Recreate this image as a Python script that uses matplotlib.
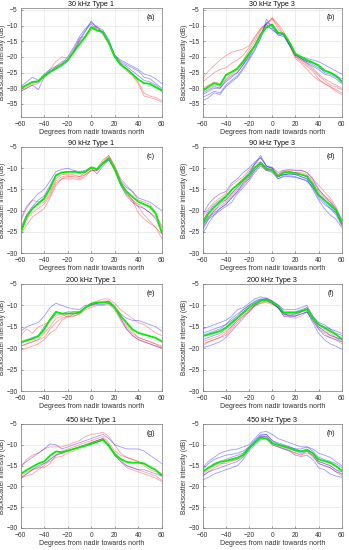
import matplotlib
matplotlib.use("Agg")
import matplotlib.pyplot as plt
import numpy as np

plt.rcParams['font.family'] = ['Liberation Sans', 'DejaVu Sans']

angles = list(range(-60, 61, 5))
xticks = [-60, -40, -20, 0, 20, 40, 60]
titles = ["30 kHz Type 1", "30 kHz Type 3", "90 kHz Type 1", "90 kHz Type 3",
          "200 kHz Type 1", "200 kHz Type 3", "450 kHz Type 1", "450 kHz Type 3"]
panel_tags = ["(a)", "(b)", "(c)", "(d)", "(e)", "(f)", "(g)", "(h)"]
xlabel_text = "Degrees from nadir towards north"
ylabel_text = "Backscatter intensity (dB)"
yticks_30 = [-35, -30, -25, -20, -15, -10, -5]
yticks_other = [-30, -25, -20, -15, -10, -5]

# ---- (a) 30 kHz Type 1
a_green = [-30, -29, -28, -27.8, -26, -24.8, -23.6, -22.5, -21, -18.5, -16, -13.5, -10.5, -11.6, -12, -15.5, -20, -22.5, -23.8, -25.5, -27.2, -28.4, -28.6, -29.7, -30.8]
a_red = [
    [-30.5, -29.5, -28.5, -28, -26, -24, -21.5, -20, -20.5, -17.5, -14, -13.5, -11, -10, -13, -16, -20, -22.5, -24.5, -26, -28.5, -32.5, -33, -33.5, -34.5],
    [-31, -30, -29, -28.5, -26.5, -25, -23, -21.5, -21, -18.5, -15, -14, -11.5, -10.5, -12.5, -15.5, -19.5, -22, -24, -25.5, -28, -31.5, -32.5, -33, -34],
]
a_blue = [
    [-29.5, -28, -26.5, -27.5, -25.5, -24, -23, -22, -20, -17, -13.5, -11, -9, -10.5, -11.5, -14.5, -19.5, -21, -22, -23, -24, -25.5, -26, -27, -28.5],
    [-31, -30, -29, -30.5, -26.5, -25, -24, -23, -21.5, -18.5, -15, -12, -8.5, -11, -12, -15, -19.5, -21.5, -22.5, -23.5, -24.5, -26.5, -27, -28.5, -30],
    [-30, -29, -28, -28, -26, -24.5, -23.5, -22.5, -21, -18, -14.5, -11.5, -9.5, -11.5, -12.5, -15.5, -20, -22, -23, -24.5, -26, -27.5, -28, -29, -30.5],
]
# ---- (b) 30 kHz Type 3
b_green = [-30.8, -29.5, -28.4, -29, -25.8, -24.8, -23.7, -21.5, -19, -16.5, -12.8, -10.6, -9.7, -12.3, -12.6, -15.4, -19, -20, -21, -21.8, -22.7, -24.3, -25, -26, -27.9]
b_red = [
    [-26.9, -24.5, -22.7, -21, -19.6, -18.5, -18, -17.5, -16.5, -13.5, -11, -9.5, -7.5, -9.5, -12, -15.5, -19.5, -21, -22.5, -24, -26, -27.5, -29, -29.5, -30.5],
    [-28, -26.5, -25, -24, -23.5, -22, -21, -19.5, -17, -14, -11, -9.5, -8, -10, -13, -16, -20, -21.5, -23, -24.5, -27, -28.5, -29.5, -30.5, -31.5],
    [-31, -30, -29, -29.5, -27, -25.5, -24, -22, -19, -16, -12.5, -10, -9.5, -12, -12.5, -16, -20, -21, -22, -23.5, -25.5, -27, -28, -29, -30],
    [-30, -29, -28, -28.5, -26, -25, -23.5, -21, -18, -15, -11.5, -9.5, -7.5, -11, -13, -16.5, -20.5, -22, -24, -26, -27.5, -28.5, -29.5, -31, -32],
]
b_blue = [
    [-32, -31, -30, -30, -28, -26.5, -25, -22.5, -20, -16.5, -13, -9, -10, -13, -13, -16, -19.5, -20, -20.5, -21, -21.5, -22.5, -23.5, -24.5, -25.5],
    [-33, -32, -31, -31.5, -29, -27.5, -26, -23.5, -20.5, -17.5, -14, -10.5, -11, -13, -13.5, -16.5, -19.5, -20.5, -21.5, -22, -23, -25, -25.5, -26.5, -27.5],
    [-34, -33, -31.5, -32, -29.5, -28, -26.5, -24, -21, -18, -14, -8, -10.5, -12.5, -13, -16, -19, -20.5, -22, -23, -24, -25.5, -26, -27, -28.5],
    [-31.5, -30.5, -29.5, -30, -27.5, -26, -25, -22.5, -19.5, -16.5, -13, -9.5, -11.5, -12.5, -12.8, -16, -19, -20.5, -21.5, -22.5, -23.5, -24.5, -25, -26, -27],
]
# ---- (c) 90 kHz Type 1
c_green = [-25.2, -21.5, -19.5, -18.3, -17.1, -14.7, -11.7, -11, -10.9, -10.8, -11, -10.9, -9.8, -10.2, -8.8, -7.6, -10.2, -13.5, -15.5, -16.7, -17.9, -18.5, -19.1, -20.7, -25.2]
c_red = [
    [-24, -21, -19.5, -18.5, -18, -16, -13, -12, -11.8, -12, -12.5, -11.5, -10.5, -10.5, -8.5, -7, -9.5, -12.5, -14, -15.5, -17.5, -18, -18.5, -20.5, -24],
    [-25.5, -23.5, -21.5, -20.5, -19.5, -17, -14, -12.5, -12.5, -12.5, -12.8, -12, -10.5, -10.5, -9, -7.5, -10, -13.5, -16, -17.5, -19, -21, -22.5, -24, -26.5],
    [-22.5, -19.5, -17.5, -18, -17.5, -15.5, -12.5, -11.5, -11.5, -11.5, -12, -11, -10, -10, -8, -7, -9.5, -13, -15.5, -17.5, -20.5, -22, -23, -24, -25.5],
    [-24.5, -22, -20.5, -19.5, -18.5, -16.5, -13.5, -12.5, -12, -11.8, -12, -11.5, -10.5, -10.5, -9, -8, -10.5, -14, -16, -17.5, -18.5, -19.5, -20.5, -21.5, -23.5],
]
c_blue = [
    [-22, -19, -17.5, -16, -15, -13, -10.8, -10.3, -10, -10.5, -10.8, -10.5, -9.8, -10.5, -9, -8, -10, -13, -14.5, -15.5, -17, -17.5, -18, -19, -20],
    [-24.5, -21, -19, -17.5, -16.5, -14, -11.5, -11, -10.8, -11, -11.2, -10.8, -10, -11.3, -9.5, -8, -10.5, -14, -16.5, -18, -19, -19.5, -20.5, -22, -25],
]
# ---- (d) 90 kHz Type 3
d_green = [-23.1, -20.7, -19.1, -17.9, -16.7, -15.1, -13.9, -12.7, -11.5, -9.8, -8.8, -10.2, -10.4, -11.9, -11, -10.9, -11.2, -11.5, -11.9, -13.9, -16.3, -17.5, -18.7, -19.9, -22.7]
d_red = [
    [-21.5, -19.5, -18, -17, -16, -14, -13, -12, -10.5, -9, -8.5, -9.8, -10, -11.5, -10.5, -10.5, -10.5, -10.5, -11, -12.5, -14, -15.5, -17, -19, -22.5],
    [-22.5, -20.5, -19.5, -18, -17.5, -16, -14.5, -13, -12, -10, -9, -10.5, -10.5, -11.5, -10.8, -10.8, -11, -11, -11.5, -13, -15, -16.5, -17.5, -19.5, -23],
    [-23.5, -21.5, -20, -19, -18, -16.5, -15, -13.5, -12.5, -10.5, -9.2, -10.5, -10.8, -12, -11.5, -11.2, -11.3, -11.5, -12, -13.5, -15.5, -17, -18, -20, -23.5],
]
d_blue = [
    [-21, -18.5, -17, -16, -15.5, -13.5, -12.5, -11, -10, -8.5, -7.5, -9.5, -10, -12, -11.5, -11.5, -11.5, -12, -12.5, -15, -17.5, -19.5, -21, -22, -24],
    [-24.5, -22, -20, -18.5, -17.5, -16, -14.5, -13, -11.5, -9, -7, -9.5, -10, -12, -11, -11, -11, -11.5, -12, -13.5, -16, -17.5, -19, -20.5, -23],
    [-25.5, -23, -21, -19.5, -18.5, -17, -15.5, -14, -12.5, -10.5, -9, -10, -10.5, -12.5, -11.8, -11.8, -12, -12.5, -13, -14.5, -17, -18.5, -19.5, -21, -23.5],
    [-22.5, -20, -18.5, -17.5, -16.5, -15, -14, -12.5, -11, -9, -7.5, -9.5, -9.8, -11, -10.5, -10.3, -10.5, -10.5, -11, -12.5, -15, -16.5, -18, -19.5, -22],
    [-23.5, -21.5, -20.5, -19.5, -18.5, -17, -15.5, -13.5, -12, -10, -8.5, -10, -10.5, -12, -11.5, -11.3, -11.5, -12, -12.5, -14, -16.5, -18, -19.5, -20.5, -23],
    [-24, -22, -21, -20, -19, -18, -16, -14.5, -13, -11, -9.5, -10.5, -11, -12.5, -12, -12, -12.2, -12.5, -13, -14.5, -16.5, -17.5, -18.5, -20, -22.5],
]
# ---- (e) 200 kHz Type 1
e_green = [-18.6, -18.2, -17.8, -17.2, -15.6, -13.3, -11.5, -11.9, -11.9, -11.9, -11.7, -10.5, -9.6, -9.3, -9.3, -9.1, -10.5, -12.5, -14, -15.6, -16.4, -16.8, -17.2, -17.6, -18.4]
e_red = [
    [-19.5, -19, -18.5, -18, -17.5, -15.5, -14, -13, -12.5, -12.5, -12, -10.5, -10, -9.5, -9.5, -9.3, -10.5, -13, -15, -16.5, -17.5, -18, -18.5, -19, -19.8],
    [-20.5, -20, -19.5, -19, -18, -16.5, -15.5, -13.5, -12.5, -12.5, -12, -11, -10.5, -10, -10, -9.8, -11, -13.5, -15.5, -17, -18, -18.5, -19, -19.5, -20],
    [-17, -15.5, -16.5, -15, -14.5, -13.5, -12.5, -12, -12.8, -12, -11.5, -10.5, -9.5, -9, -8.5, -8.5, -9.5, -11, -12, -13, -14, -14.5, -15.5, -16.5, -17],
    [-19.5, -19, -18.5, -18, -16.5, -15, -13, -12.5, -12, -11.5, -11.5, -10.5, -9.8, -9.5, -9, -9, -10, -12, -14.5, -16, -17.5, -18, -18.5, -19, -19.5],
]
e_blue = [
    [-16, -15, -14.5, -14, -12.5, -10.5, -9.5, -10, -10.5, -10.8, -11, -10, -9.8, -9.5, -9.3, -9.5, -10.5, -12, -13, -13.5, -13.5, -14, -14.5, -15, -16],
    [-19, -18, -17.5, -17, -15, -13.5, -12, -12, -11.5, -11.5, -11.5, -10.5, -10, -9.8, -9.8, -9.5, -10.5, -13, -15.5, -17, -18, -18.5, -19, -19.5, -20],
]
# ---- (f) 200 kHz Type 3
f_green = [-17.2, -16.8, -16.4, -16, -15.2, -14, -12.9, -11.7, -10.5, -9.6, -8.9, -8.7, -9.3, -10.1, -11.7, -11.7, -11.7, -11.3, -10.9, -12.9, -14.4, -15.2, -16, -16.8, -17.8]
f_red = [
    [-19.5, -18.5, -18, -17.5, -17, -15.5, -14, -12.5, -11.2, -10, -9.2, -9, -9.5, -10.5, -12, -12.3, -12.5, -11.5, -10.5, -13, -15, -16, -17, -17.5, -18.5],
    [-19, -18.5, -18, -17.5, -16.5, -15, -13.5, -12, -11, -10, -9.5, -9.3, -9.8, -10.5, -12.5, -12.8, -13, -12.5, -11.5, -13.5, -15.5, -16.5, -17.5, -18, -19],
    [-18.5, -18, -17.5, -17, -16, -15, -13.5, -12.5, -11.5, -10.2, -9.5, -9, -9.5, -10.5, -11.8, -12, -12, -11.5, -11, -13, -14.5, -15.5, -16.5, -17.5, -18],
]
f_blue = [
    [-15.5, -15, -14.5, -14, -13.5, -12.5, -11, -10.5, -9.5, -8.5, -8, -8.3, -9, -9.8, -11, -11, -11, -10.5, -10, -12.5, -14, -14.5, -15.5, -16, -16.5],
    [-16.5, -16, -15.5, -15, -14.5, -13, -12, -11, -10, -9.2, -8.5, -8.5, -9, -10, -11.5, -11.5, -11.5, -11, -10.5, -12.5, -14.5, -15, -15.5, -16.5, -17],
    [-19.8, -19.5, -19, -18.5, -17.5, -16, -14.5, -13, -11.5, -10, -9, -8.5, -9.5, -10.5, -12, -12.5, -12.5, -12, -11.5, -14, -16.5, -18, -19, -19.5, -20.2],
    [-18, -17.5, -17, -16.5, -15.5, -14.5, -13, -11.5, -10.5, -9.5, -8.8, -8.3, -9, -10.5, -12.5, -12.5, -12.5, -12, -11.5, -13.5, -15.5, -17, -17.5, -18, -18.5],
    [-17, -16.5, -16, -15.5, -14.5, -13.5, -12.5, -11, -10, -9, -8.5, -8.8, -9.5, -10.5, -12, -12.3, -12, -11.5, -11, -13, -15, -16, -17, -17.5, -18],
]
# ---- (g) 450 kHz Type 1
g_green = [-17, -16.1, -15.3, -14.5, -14, -12.6, -11.6, -11.8, -11.4, -11, -10.6, -10.2, -9.8, -9.3, -8.8, -10.2, -12.2, -13.4, -14.1, -14.3, -14.3, -14.5, -15.3, -16.1, -17.3]
g_red = [
    [-15.5, -13.5, -12.5, -12, -11, -10.5, -10.5, -10.5, -10, -9.5, -9, -8, -7.5, -7.3, -7, -8, -10, -12, -13, -13.5, -14, -14.5, -15.5, -16, -17],
    [-18, -17, -16, -15.5, -14.5, -14, -13, -12.8, -12, -11.5, -11, -10.3, -9.5, -9, -8.5, -10, -12.5, -14, -15.5, -16, -16.5, -17, -17.5, -18, -18.8],
    [-17.5, -16.5, -16, -15.5, -15.5, -14.5, -12.5, -12, -11.5, -11, -10.5, -10, -9.5, -9, -8.5, -10, -12.5, -13.5, -15, -15.5, -16, -16.5, -17, -17.5, -18.5],
    [-18, -17.5, -17, -16, -15, -13.5, -12.5, -11.5, -11, -10.5, -10, -9.5, -9, -8.5, -8, -9.5, -11.5, -12.5, -13, -13.5, -14, -15, -16, -16.5, -17.5],
]
g_blue = [
    [-15, -14, -13, -12, -11, -9.8, -10, -11, -10.5, -10, -9.5, -9, -8.5, -8, -7.5, -8.5, -10, -10.5, -11, -11, -11, -11.5, -12.5, -13.5, -14.5],
    [-18, -17, -16, -15, -14.5, -13.5, -12.5, -12, -11.5, -11, -10.5, -10, -9.5, -9, -8.5, -10.5, -12.5, -14, -15, -15.5, -16, -16, -16.5, -17, -17.5],
]
# ---- (h) 450 kHz Type 3
h_green = [-16.5, -15.5, -14.7, -14.1, -13.9, -13.5, -13.1, -12.4, -10.8, -9.5, -8.3, -8.5, -9.6, -10, -10.4, -10.8, -11.3, -11.6, -11.3, -12, -13.5, -13.9, -14.3, -15.1, -16.2]
h_red = [
    [-17.5, -16.5, -15.5, -14.8, -14, -13.8, -13.5, -12.8, -11, -9.5, -8, -8, -9.5, -10.3, -10.8, -11.3, -12, -12.3, -12, -12.5, -14.5, -15, -15.5, -16.5, -17.5],
    [-17, -16, -15, -14.5, -14.5, -14, -13.5, -12.5, -11, -9.5, -8.3, -8.3, -10, -10.5, -11, -11.5, -12, -12.5, -11.5, -13, -14, -14.5, -15, -16, -17],
]
h_blue = [
    [-15.5, -14, -13, -12, -11.5, -11.2, -11, -10.5, -10, -8.5, -7, -6.8, -7.5, -8.5, -9, -9.5, -10, -10.5, -10.5, -11, -12, -12.5, -13, -14, -15],
    [-18.5, -17.8, -17, -16.5, -16, -15.5, -15, -13.5, -11.5, -10, -8.8, -8.5, -10, -10.5, -11, -11.5, -12.5, -12.8, -12.5, -13.5, -15.5, -16, -17, -17.5, -17.8],
    [-16, -14.5, -13.5, -13, -12.5, -12.3, -12, -11.5, -10.5, -9, -7.5, -7.5, -9, -9.5, -10, -10.5, -11, -11, -10.5, -11.5, -13, -13.5, -14, -14.5, -15.5],
    [-17.5, -16.5, -16, -15.5, -15, -14.5, -14, -13, -11, -9.5, -8, -8, -9.5, -10, -10.5, -11, -11.5, -12, -11.5, -12.5, -14.5, -15, -15.5, -16.5, -17],
    [-16.5, -15.5, -14.5, -14, -13.5, -13, -12.5, -12, -10.5, -9, -7.8, -7.5, -9, -9.8, -10.2, -10.5, -11, -11.5, -11, -12, -14, -14.5, -15, -16, -16.5],
]

greens = [a_green, b_green, c_green, d_green, e_green, f_green, g_green, h_green]
reds = [a_red, b_red, c_red, d_red, e_red, f_red, g_red, h_red]
blues = [a_blue, b_blue, c_blue, d_blue, e_blue, f_blue, g_blue, h_blue]

W, H = 349, 550
fig = plt.figure(figsize=(W / 100, H / 100), dpi=100)

col_left = [20.7, 202.7]
col_width = [141, 139]
row_top = [8, 147, 284, 424]
row_bottom = [117, 253, 391, 528]

txt = '#333333'
for i in range(8):
    r, c = divmod(i, 2)
    l = col_left[c] / W
    b = 1 - row_bottom[r] / H
    w = col_width[c] / W
    h = (row_bottom[r] - row_top[r]) / H
    ax = fig.add_axes([l, b, w, h])
    for ys in reds[i]:
        ax.plot(angles, ys, color='#ff3030', alpha=0.45, lw=0.6, zorder=2)
    for ys in blues[i]:
        ax.plot(angles, ys, color='#2020ff', alpha=0.45, lw=0.6, zorder=2)
    ax.plot(angles, greens[i], color='#00ee00', lw=1.3, zorder=3)
    ax.set_xlim(-60, 60)
    if r == 0:
        ax.set_ylim(-39.2, -4.4)
        ax.set_yticks(yticks_30)
    else:
        ax.set_ylim(-30, -5)
        ax.set_yticks(yticks_other)
    ax.set_xticks(xticks)
    ax.grid(True, color='#e4e4e4', lw=0.5, zorder=0)
    ax.set_axisbelow(True)
    ax.tick_params(direction='in', length=1.5, width=0.4, labelsize=4.8,
                   colors='#555555', labelcolor=txt)
    ax.tick_params(axis='x', pad=2.8)
    ax.tick_params(axis='y', pad=2.2)
    for sp in ax.spines.values():
        sp.set_color('#777777')
        sp.set_linewidth(0.5)
    ax.set_title(titles[i], fontsize=5.2, pad=1.5, color='#111111')
    ax.set_xlabel(xlabel_text, fontsize=5.0, labelpad=1.0, color=txt)
    ax.set_ylabel(ylabel_text, fontsize=4.8, labelpad=0.6, color=txt)
    ax.text(0.92, 0.91, panel_tags[i], transform=ax.transAxes, fontsize=5,
            ha='center', va='center', color='#111111')

fig.savefig('out.png', dpi=100)
